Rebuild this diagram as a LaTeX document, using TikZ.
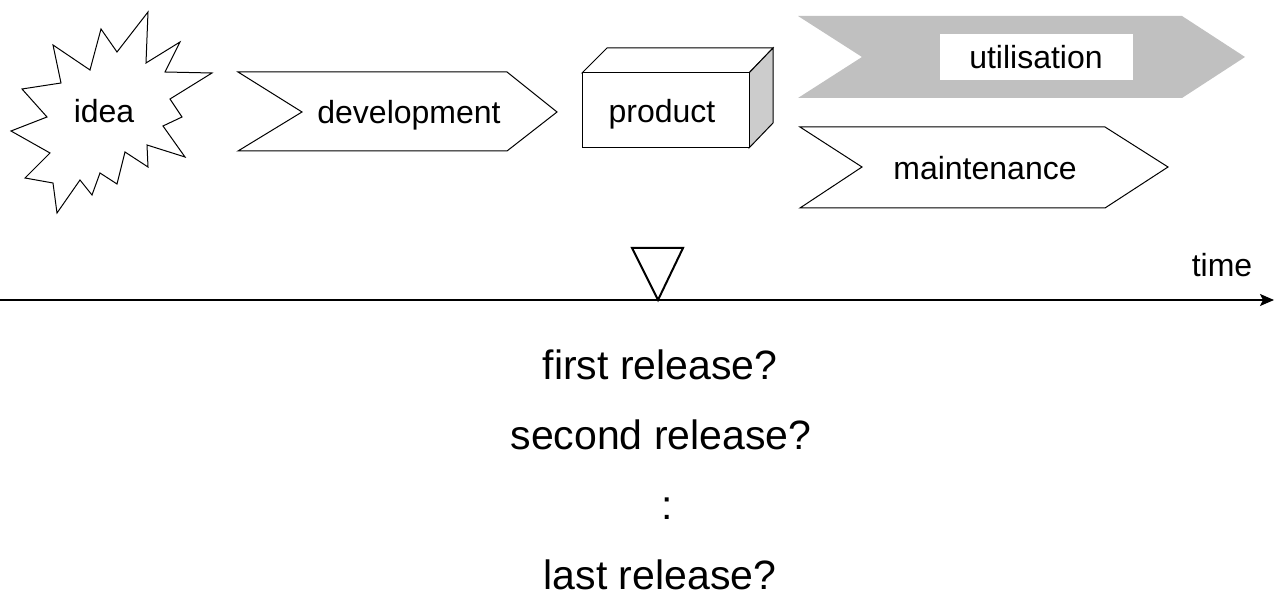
\documentclass[tikz,border=0pt]{standalone}
\usepackage{fontspec}
\setmainfont{Liberation Sans}
\usetikzlibrary{arrows.meta}

\definecolor{flowgray}{HTML}{C0C0C0}
\definecolor{sidegray}{HTML}{CCCCCC}

\tikzset{
  outline/.style={draw=black, line width=0.5pt, line join=miter},
  lbl/.style={font=\fontsize{16}{19}\selectfont, inner sep=0pt, anchor=base},
  big/.style={font=\fontsize{20.5}{24}\selectfont, inner sep=0pt, anchor=base},
  axis/.style={line width=0.6pt, -{Stealth[length=7pt,width=6pt,inset=1.5pt]}},
  marker/.style={draw=black, line width=1pt, fill=white, line join=miter}
}

\begin{document}
\begin{tikzpicture}[x=0.5pt,y=-0.5pt]
  \useasboundingbox (0,0) rectangle (1279,597);

  % the idea: a jagged burst
  \draw[outline, fill=white]
    (148,12) -- (146,63) -- (180,42) -- (165,72) -- (212,73) -- (170,99)
    -- (182,117) -- (163,126) -- (185,157) -- (147,145) -- (148,167)
    -- (125,152) -- (117,184) -- (100,173) -- (92,195) -- (80,180)
    -- (57,213) -- (53,183) -- (25,178) -- (50,153) -- (11,131)
    -- (47,117) -- (22,89) -- (61,83) -- (53,45) -- (90,70)
    -- (101,29) -- (117,52) -- cycle;
  \node[lbl] (idea) at (104,123) {idea};

  % development chevron
  \draw[outline, fill=white]
    (238,72) -- (507,72) -- (557,112) -- (507,151) -- (238,151) -- (302,112) -- cycle;
  \node[lbl] (dev) at (409,124) {development};

  % product: a box in cavalier view
  \draw[outline, fill=white] (582,73) -- (607,48) -- (773,48) -- (749,73) -- cycle;
  \draw[outline, fill=sidegray] (749,73) -- (773,48) -- (773,123) -- (749,148) -- cycle;
  \draw[outline, fill=white] (582,73) rectangle (749,148);
  \node[lbl] (prod) at (662,123) {product};

  % utilisation chevron, filled grey with a white label plate
  \fill[flowgray]
    (798,16) -- (1182,16) -- (1245,57) -- (1182,98) -- (798,98) -- (862,57) -- cycle;
  \fill[white] (940,34) rectangle (1133,80);
  \node[lbl] (util) at (1036,69) {utilisation};

  % maintenance chevron
  \draw[outline, fill=white]
    (800,127) -- (1105,127) -- (1168,167) -- (1105,208) -- (800,208) -- (862,167) -- cycle;
  \node[lbl] (maint) at (985,180) {maintenance};

  % time axis with the release marker
  \coordinate (t0) at (0,300);
  \coordinate (t1) at (1274,300);
  \draw[axis] (t0) -- (t1);
  \node[lbl] (time) at (1222,277) {time};
  \draw[marker] (632,248) -- (683,248) -- (658,300) -- cycle;

  % release questions
  \node[big] (r1) at (660,380) {first release?};
  \node[big] (r2) at (661,450) {second release?};
  \node[big] (r3) at (667,520) {:};
  \node[big] (r4) at (660,590) {last release?};
\end{tikzpicture}
\end{document}
